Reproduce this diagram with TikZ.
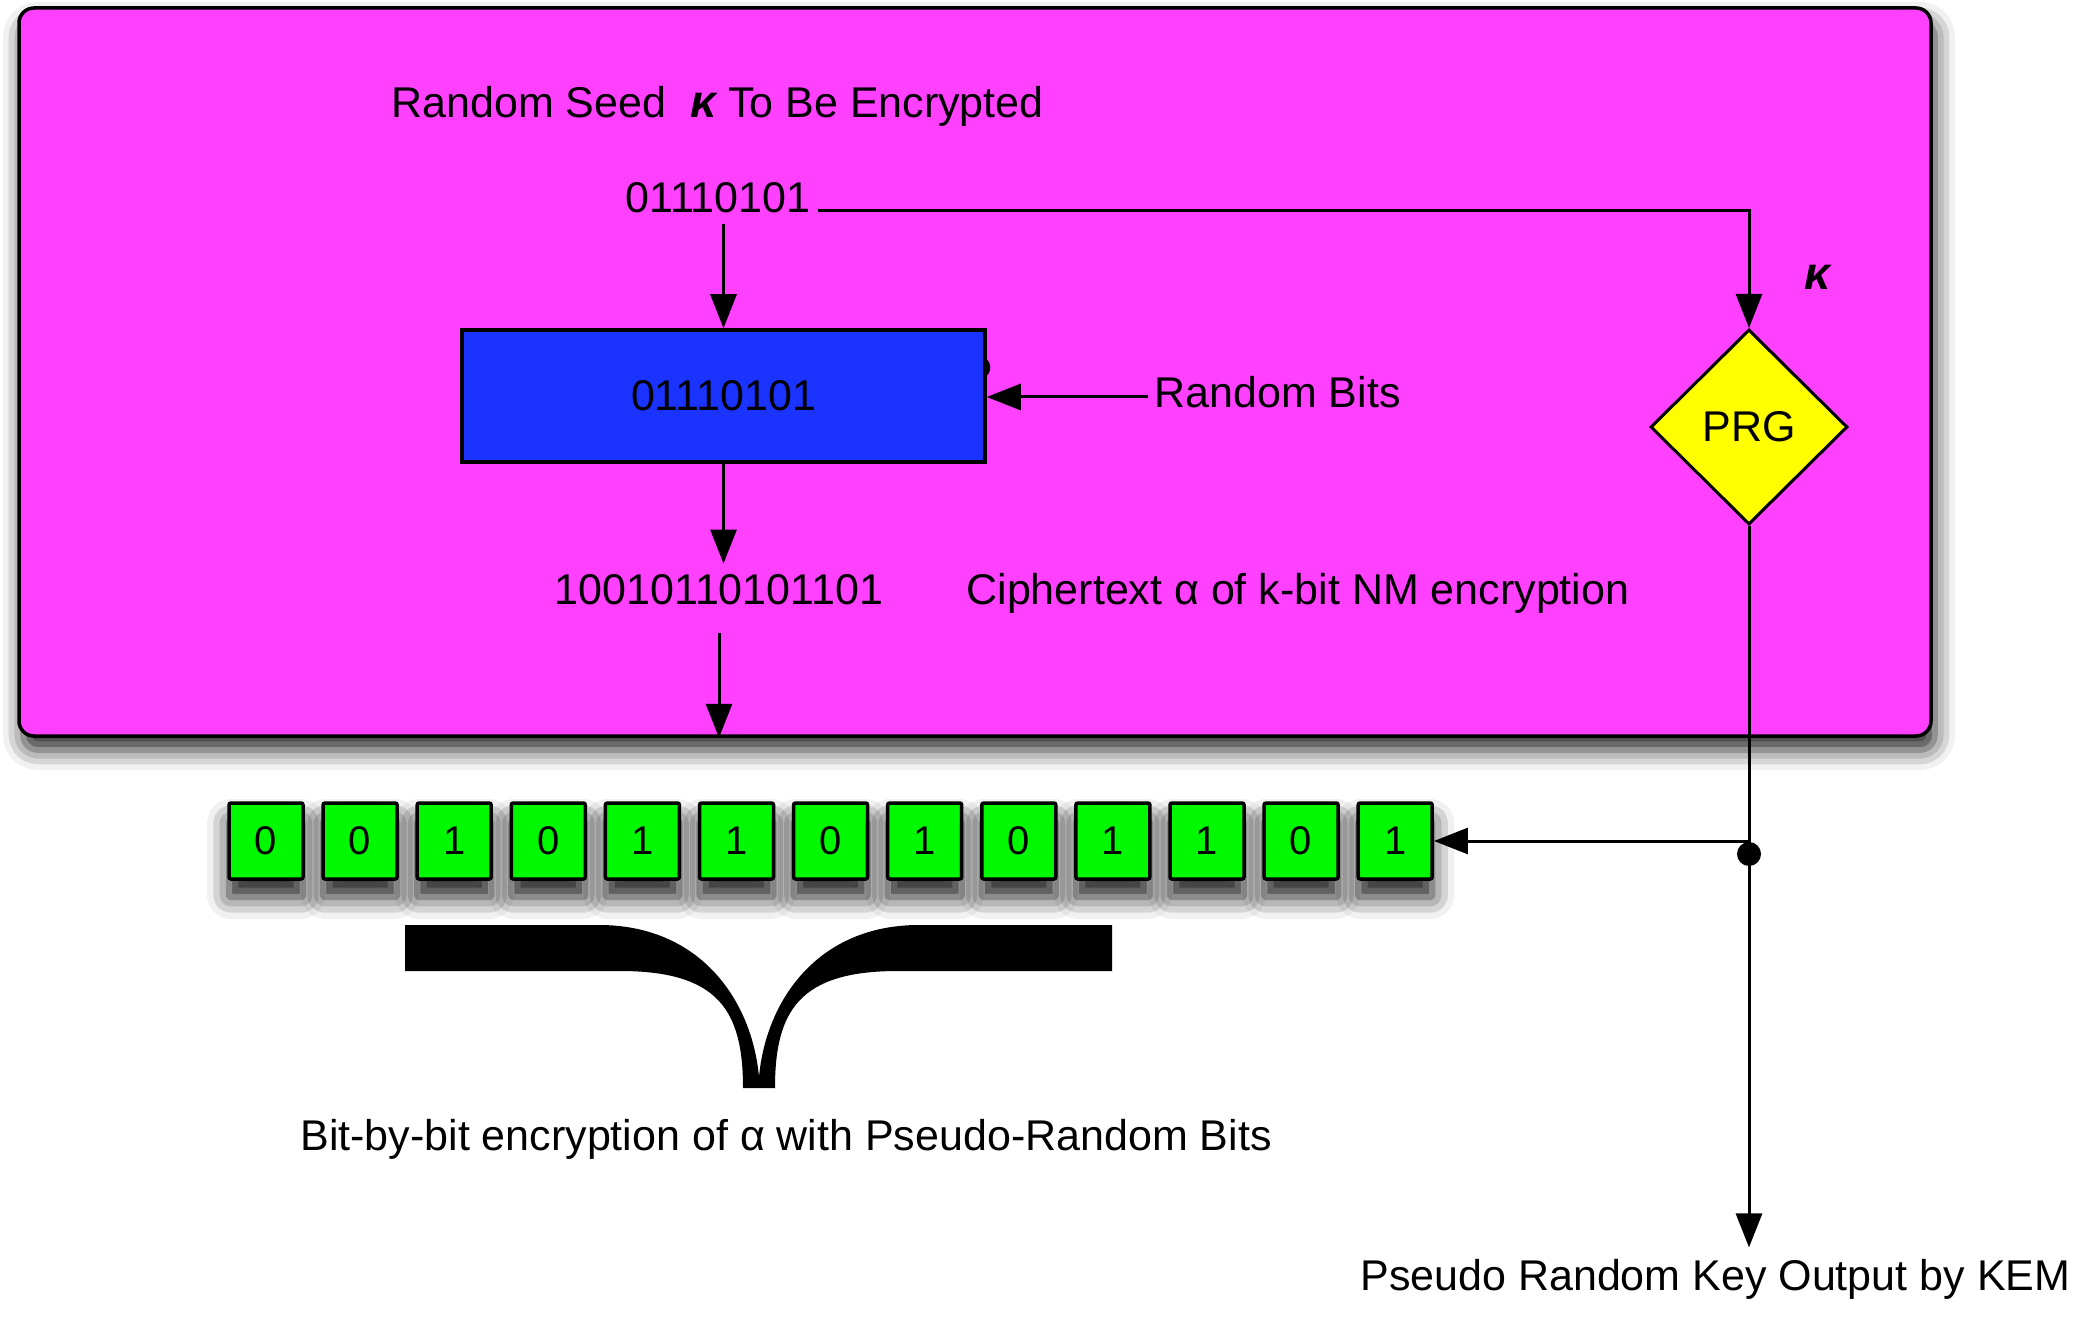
\documentclass[tikz,border=0pt]{standalone}
\usepackage{fontspec}
\setmainfont{Liberation Sans}
\usetikzlibrary{arrows.meta,shapes.geometric,shadows.blur,calc}
\definecolor{mag}{RGB}{255,64,255}
\definecolor{bbox}{RGB}{26,51,255}
\definecolor{cellg}{RGB}{0,248,0}
\definecolor{prgy}{RGB}{255,255,0}
\begin{document}
\begin{tikzpicture}[x=0.5pt,y=-0.5pt,
  txt/.style={inner sep=0pt, font=\fontsize{21.5pt}{26pt}\selectfont},
  arr/.style={line width=1.5pt, -{Triangle[length=17pt,width=13pt]}},
  cell/.style={draw, line width=1.75pt, fill=cellg, minimum width=37pt, minimum height=38pt,
    inner sep=0pt, rounded corners=1pt, font=\fontsize{20pt}{24pt}\selectfont,
    blur shadow={shadow xshift=0pt, shadow yshift=-9pt, shadow blur radius=11pt, shadow opacity=90}},
  kap/.style={font=\fontsize{23pt}{26pt}\selectfont\bfseries\itshape}
]
\useasboundingbox (0,0) rectangle (2083,1331);

% main magenta panel
\node[draw, line width=1.75pt, fill=mag, rounded corners=7.5pt, minimum width=956pt, minimum height=364pt,
  inner sep=0pt, blur shadow={shadow xshift=2pt, shadow yshift=-7pt, shadow blur radius=10pt, shadow opacity=85}]
  (panel) at (975,372) {};

% texts
\node[txt, anchor=base west] (title) at (391,118) {Random Seed~ {\fontsize{23pt}{26pt}\selectfont\bfseries\itshape κ} To Be Encrypted};
\node[txt, anchor=base] (seed) at (718,213) {01110101};
\node[draw, line width=1.75pt, fill=bbox, minimum width=261.5pt, minimum height=66pt, inner sep=0pt,
  font=\fontsize{21.5pt}{26pt}\selectfont] (box) at (723.5,396) {01110101};
\fill (985,358) .. controls (992,362) and (992,373) .. (985,377) -- cycle;
\node[txt, anchor=base west, inner xsep=3pt] (rb) at (1148,408) {Random Bits};
\node[txt, anchor=base] (cipher) at (719,605) {10010110101101};
\node[txt, anchor=base west] (ctext) at (966,605) {Ciphertext α of k-bit NM encryption};
\node[draw, line width=1.5pt, fill=prgy, diamond, aspect=1, inner sep=0pt, minimum width=98.5pt,
  minimum height=97.5pt, font=\fontsize{21.5pt}{26pt}\selectfont] (prg) at (1749,427) {PRG};
\node[kap, inner sep=0pt, anchor=base] (kappa) at (1817,290) {κ};
\node[txt, anchor=base west] (bbb) at (300,1150) {Bit-by-bit encryption of α with Pseudo-Random Bits};
\node[txt, anchor=base west] (kem) at (1360,1290) {Pseudo Random Key Output by KEM};

% cells
\foreach \b [count=\i] in {0,0,1,0,1,1,0,1,0,1,1,0,1} {
  \node[cell] (c\i) at ({266+(\i-1)*94.1},841) {\b};
}

% connectors
\draw[arr, shorten <=5pt] (box.north |- seed.south) -- (box.north);
\draw[arr] ([xshift=3.5pt,yshift=1pt]seed.base east) -| (prg.north);
\draw[arr] ([yshift=5.5pt]rb.base west) -- ([yshift=5.5pt]rb.base west -| box.east);
\draw[arr, shorten >=5.5pt] (box.south) -- (box.south |- cipher.north);
\draw[arr, shorten <=13.5pt] (cipher.south) -- (cipher.south |- panel.south);
\draw[arr, shorten >=5.5pt] (prg.south) -- (prg.south |- kem.north);
\coordinate (j) at (prg.south |- c13.east);
\draw[arr] (j) -- (c13.east);
\node[circle, fill, inner sep=0pt, minimum size=12pt] (dot) at ([yshift=-6.5pt]j) {};

% brace
\fill (405,925) -- (599,925) .. controls (700,925) and (752,1000) .. (759,1077)
  .. controls (766,1000) and (818,925) .. (919,925) -- (1112,925)
  -- (1112,971) -- (898,971) .. controls (800,971) and (775,1010) .. (775,1088)
  -- (743,1088) .. controls (743,1010) and (718,971) .. (620,971) -- (405,971) -- cycle;
\end{tikzpicture}
\end{document}
